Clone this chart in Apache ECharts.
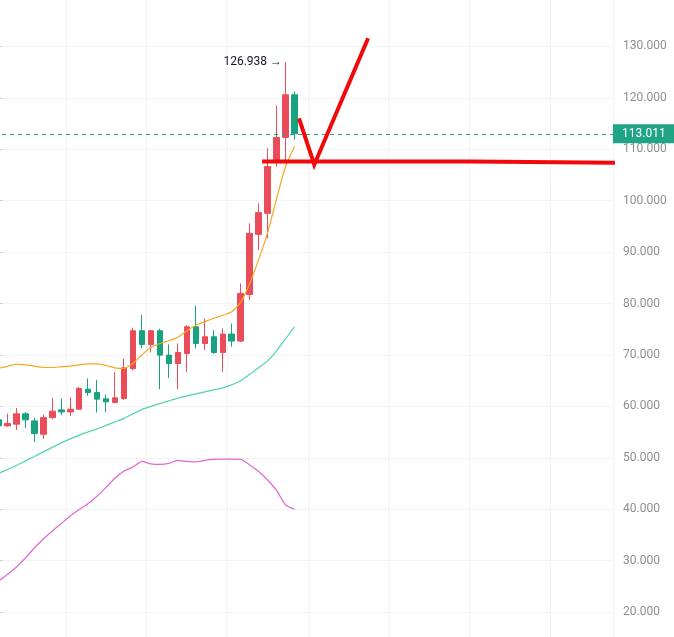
<!DOCTYPE html>
<html><head><meta charset="utf-8">
<script src="https://cdn.jsdelivr.net/npm/echarts@6/dist/echarts.min.js"></script>
<style>html,body{margin:0;padding:0;background:#fff}#c{width:674px;height:637px}</style>
</head><body><div id="c"></div>
<script>
// ---- data ----
const openV  = [57.38,56.21,56.54,58.55,57.18,54.59,57.82,59.32,58.93,59.46,63.35,62.69,61.47,60.75,61.52,67.37,74.71,72.04,74.71,69.97,68.34,70.29,75.48,72.23,73.54,70.48,74.06,72.70,81.77,93.45,97.54,107.61,112.28,120.60];
const closeV = [56.21,56.66,58.55,57.38,54.71,57.82,59.07,58.93,59.46,63.47,62.69,61.41,60.88,61.66,67.50,74.71,72.04,74.71,69.97,68.34,70.48,75.48,72.23,73.54,70.48,74.06,72.70,81.97,93.65,97.68,106.64,112.28,120.60,113.011];
const lowV   = [55.62,56.01,55.43,55.82,53.09,53.68,57.57,58.29,58.16,59.30,62.05,58.80,58.93,60.60,61.30,67.00,71.26,70.48,63.35,65.55,63.35,66.72,71.26,70.95,70.20,66.72,71.59,72.50,80.68,90.42,92.68,106.60,107.20,111.83];
const highV  = [58.16,58.60,59.71,58.90,57.77,58.41,61.66,61.52,61.72,63.80,65.42,65.16,62.30,66.64,69.31,75.29,77.76,74.90,75.10,72.04,72.23,75.81,79.57,77.10,74.84,75.15,76.13,83.91,95.60,99.49,110.20,118.51,126.938,121.24];
const maOrange = [67.40,67.79,68.22,68.08,67.83,67.60,67.56,67.70,67.83,68.08,68.28,68.28,67.95,67.50,67.40,68.38,70.03,71.50,72.23,72.76,73.44,74.70,75.77,76.46,77.14,77.72,78.40,80.25,83.86,88.53,93.79,100.41,106.64,110.53];
const maTeal   = [46.96,47.74,48.52,49.40,50.27,51.15,52.03,52.90,53.68,54.40,55.04,55.63,56.31,56.99,57.67,58.55,59.42,60.01,60.55,61.08,61.62,62.05,62.44,62.83,63.22,63.61,64.19,64.97,66.24,67.50,68.86,70.81,73.15,75.48];
const maPink   = [26.03,27.30,28.76,30.51,32.46,34.21,35.77,37.23,38.69,39.95,41.12,42.58,44.24,46.08,47.45,48.23,49.30,48.81,48.71,48.91,49.49,49.30,49.20,49.49,49.69,49.73,49.73,49.69,48.62,47.35,45.69,43.65,40.83,39.99];
const lastPrice = 113.011;
// drawn annotations, in [bar index, price]
const supportLine = [[29.38,107.6],[52.57,107.6],[52.57,107.3],[75.3,107.3]];
const zigzag = [[33.5,116.0],[35.2,107.0],[41.2,131.6]];
const totalSlots = 69;
const yMin = 10, yMax = 140, yStep = 10;

const categories = [];
for (let i = 0; i < totalSlots; i++) categories.push('b' + i);
const candles = openV.map((o, i) => [o, closeV[i], lowV[i], highV[i]]);

const RED = '#ea4c5a', GREEN = '#17a37f';
const chart = echarts.init(document.getElementById('c'), null, {renderer: 'canvas'});
chart.setOption({
  animation: false,
  backgroundColor: '#ffffff',
  textStyle: {fontFamily: 'Roboto'},
  grid: {left: -6, right: 61, top: -5, bottom: -26.5, containLabel: false, outerBoundsMode: 'none'},
  xAxis: [
    {type: 'category', data: categories, boundaryGap: true,
     axisLine: {show: false}, axisTick: {show: false}, axisLabel: {show: false},
     splitLine: {show: true, interval: (i) => i % 9 === 8, lineStyle: {color: '#f3f3f3', width: 1}}},
    {type: 'value', min: -0.5, max: totalSlots - 0.5, show: false}
  ],
  yAxis: {
    type: 'value', position: 'right', min: yMin, max: yMax, interval: yStep,
    axisLine: {show: true, lineStyle: {color: '#dcdcdc'}},
    axisTick: {show: true, length: 4, inside: false, lineStyle: {color: '#cfcfcf'}},
    axisLabel: {color: '#8f8f8f', fontSize: 12, margin: 10, fontFamily: 'Roboto',
      formatter: (v) => v.toFixed(3)},
    splitLine: {show: true, lineStyle: {color: '#f3f3f3'}}
  },
  series: [
    {type: 'candlestick', data: candles, xAxisIndex: 0, barWidth: 6, z: 2,
     itemStyle: {color: RED, color0: GREEN, borderColor: RED, borderColor0: GREEN, borderWidth: 1},
     markPoint: {
       symbol: 'circle', symbolSize: 1, itemStyle: {color: 'rgba(0,0,0,0)'},
       data: [{type: 'max', valueDim: 'highest'}],
       label: {show: true, position: 'left', distance: 3, color: '#131722', fontSize: 12,
         fontFamily: 'Roboto', formatter: (p) => Number(p.value).toFixed(3) + ' \u2192'}
     },
     markLine: {
       symbol: 'none', silent: true, precision: 3,
       lineStyle: {color: '#1fa585', type: [4, 4], width: 1},
       label: {show: true, position: 'end', distance: 0, color: '#ffffff', fontSize: 12,
         fontFamily: 'Roboto', backgroundColor: '#1fa585', padding: [4, 9, 3, 9],
         formatter: () => lastPrice.toFixed(3)},
       data: [{yAxis: lastPrice}]
     }
    },
    {type: 'line', data: maOrange, xAxisIndex: 0, symbol: 'none', smooth: 0.2, z: 3,
     lineStyle: {color: '#f5a81f', width: 1.2}},
    {type: 'line', data: maTeal, xAxisIndex: 0, symbol: 'none', smooth: 0.2, z: 3,
     lineStyle: {color: '#52d3b6', width: 1.2}},
    {type: 'line', data: maPink, xAxisIndex: 0, symbol: 'none', smooth: 0.2, z: 3,
     lineStyle: {color: '#e466d6', width: 1.2}},
    {type: 'line', data: supportLine, xAxisIndex: 1, symbol: 'none', clip: false, z: 5,
     lineStyle: {color: '#f20a0a', width: 4}},
    {type: 'line', data: zigzag, xAxisIndex: 1, symbol: 'none', clip: false, z: 5,
     lineStyle: {color: '#f20a0a', width: 4, join: 'miter'}}
  ]
});
</script>
</body></html>
